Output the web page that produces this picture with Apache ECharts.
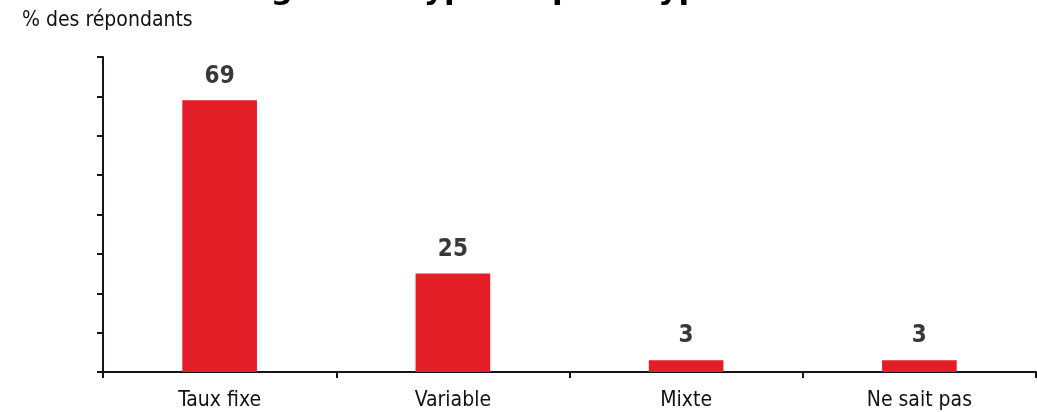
<!DOCTYPE html>
<html>
<head>
<meta charset="utf-8">
<script src="https://cdn.jsdelivr.net/npm/echarts@6/dist/echarts.min.js"></script>
<style>
html,body{margin:0;padding:0;background:#fff;}
#chart{width:1037px;height:412px;}
</style>
</head>
<body>
<div id="chart"></div>
<script>
const titleText = 'Ménages : le type de prêt hypothécaire';
const unitLabel = '% des répondants';
const categories = ['Taux fixe', 'Variable', 'Mixte', 'Ne sait pas'];
const values = [69, 25, 3, 3];
const yMin = 0, yMax = 80, yInterval = 10;

const chart = echarts.init(document.getElementById('chart'), null, {renderer: 'canvas'});
const axisColor = '#15151f';
const textFont = '"DejaVu Sans Condensed", "DejaVu Sans", sans-serif';
chart.setOption({
  animation: false,
  graphic: [
    {type: 'text', left: 22, top: 10, style: {text: unitLabel, font: '21px ' + textFont, fill: '#111'}},
    {type: 'text', x: 176, y: 6, style: {text: titleText, font: 'bold 31px "DejaVu Sans", sans-serif', fill: '#000', align: 'left', verticalAlign: 'bottom'}}
  ],
  grid: {left: 103, right: 1, top: 57, bottom: 40, containLabel: false},
  xAxis: {
    type: 'category',
    data: categories,
    axisLine: {lineStyle: {color: axisColor, width: 2}},
    axisTick: {show: true, length: 6, lineStyle: {color: axisColor, width: 2}},
    axisLabel: {color: '#111', fontSize: 21, fontFamily: textFont, margin: 18}
  },
  yAxis: {
    type: 'value',
    min: yMin, max: yMax, interval: yInterval,
    axisLine: {show: true, lineStyle: {color: axisColor, width: 2}},
    axisTick: {show: true, inside: false, length: 6, lineStyle: {color: axisColor, width: 2}},
    axisLabel: {show: false},
    splitLine: {show: false}
  },
  series: [{
    type: 'bar',
    data: values,
    barWidth: '32%',
    itemStyle: {color: '#e31e27'},
    label: {show: true, position: 'top', distance: 12, color: '#383838', fontSize: 24, fontWeight: 'bold', fontFamily: textFont}
  }]
});
</script>
</body>
</html>
